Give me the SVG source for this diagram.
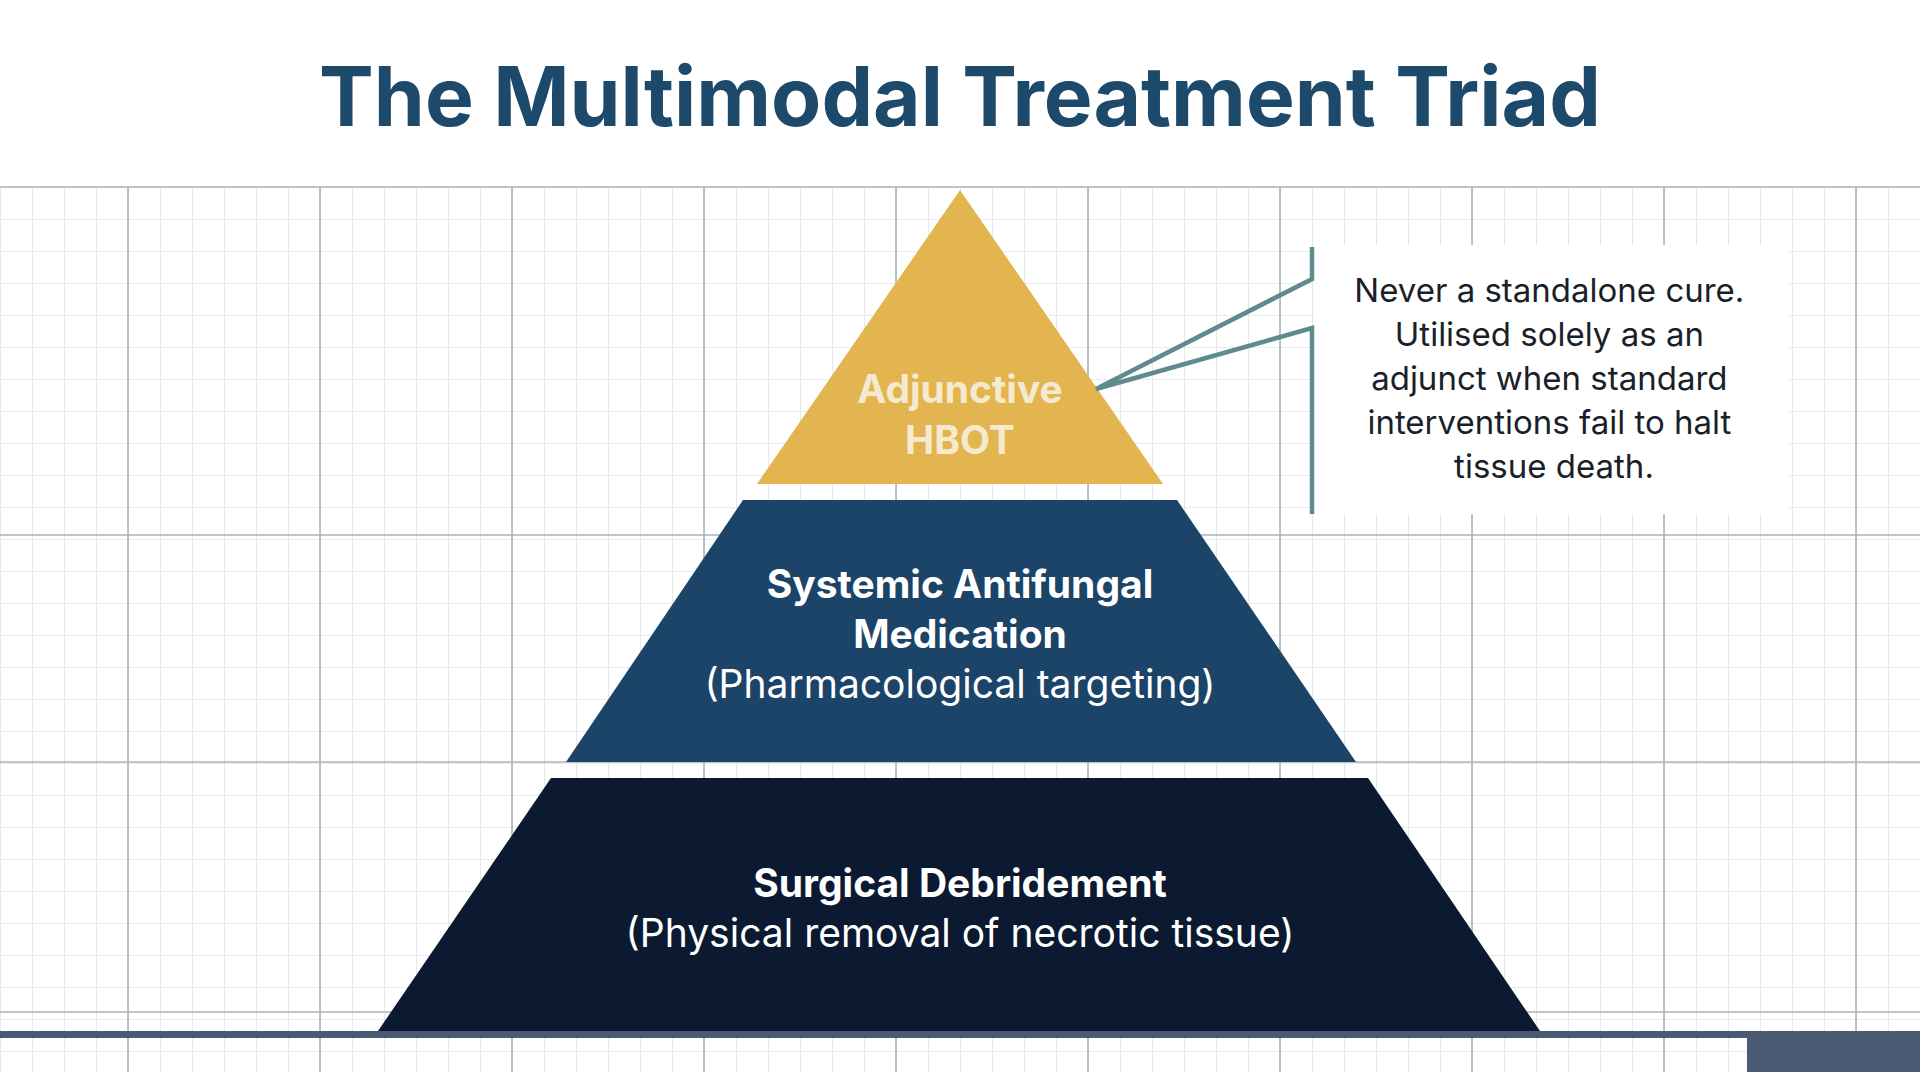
<svg xmlns="http://www.w3.org/2000/svg" width="1920" height="1072" viewBox="0 0 1920 1072">
<defs>
<pattern id="minor" x="0" y="187" width="32" height="32" patternUnits="userSpaceOnUse">
<path d="M0 0H32M0 0V32" fill="none" stroke="#d3d9de" stroke-width="1.2"/>
</pattern>
<style>
.t{font-family:Inter,"Open Sans",sans-serif;text-anchor:middle}
.b{font-weight:700}
.maj{stroke:#a9b5bd;stroke-width:1.6}
</style>
</defs>
<rect width="1920" height="1072" fill="#fff"/>
<rect x="0" y="187" width="1920" height="885" fill="url(#minor)"/>
<g class="maj">
<line x1="128" y1="187" x2="128" y2="1072"/><line x1="320" y1="187" x2="320" y2="1072"/><line x1="512" y1="187" x2="512" y2="1072"/><line x1="704" y1="187" x2="704" y2="1072"/><line x1="896" y1="187" x2="896" y2="1072"/><line x1="1088" y1="187" x2="1088" y2="1072"/><line x1="1280" y1="187" x2="1280" y2="1072"/><line x1="1472" y1="187" x2="1472" y2="1072"/><line x1="1664" y1="187" x2="1664" y2="1072"/><line x1="1856" y1="187" x2="1856" y2="1072"/>
<line x1="0" y1="187" x2="1920" y2="187"/><line x1="0" y1="535" x2="1920" y2="535"/><line x1="0" y1="762" x2="1920" y2="762"/><line x1="0" y1="1012" x2="1920" y2="1012"/>
</g>
<rect x="0" y="1031" width="1920" height="7" fill="#4a5a72"/>
<rect x="1747" y="1031" width="173" height="41" fill="#4a5a72"/>
<text class="t b" x="960" y="126" font-size="82" fill="#1d4a6b">The Multimodal Treatment Triad</text>
<g id="top">
<polygon points="960,190 1163,484 757,484" fill="#e3b550"/>
<text class="t b" x="960" y="403" font-size="39" fill="#f5ead0">Adjunctive</text>
<text class="t b" x="960" y="454" font-size="39" fill="#f5ead0">HBOT</text>
</g>
<g id="middle">
<polygon points="743,500 1177,500 1356,762 566,762" fill="#1b4468"/>
<text class="t b" x="960" y="598" font-size="39" fill="#fff">Systemic Antifungal</text>
<text class="t b" x="960" y="648" font-size="39" fill="#fff">Medication</text>
<text class="t" x="960" y="698" font-size="39" fill="#fff">(Pharmacological targeting)</text>
</g>
<g id="bottom">
<polygon points="551,778 1368,778 1540,1031 378,1031" fill="#0b1a30"/>
<text class="t b" x="960" y="897" font-size="39" fill="#fff">Surgical Debridement</text>
<text class="t" x="960" y="947" font-size="39" fill="#fff">(Physical removal of necrotic tissue)</text>
</g>
<g id="callout">
<rect x="1313" y="245" width="475" height="269" fill="#fff"/>
<text class="t" font-size="33" fill="#1a1f2a">
<tspan x="1554" y="302">Never a standalone cure.</tspan>
<tspan x="1554" y="346">Utilised solely as an</tspan>
<tspan x="1554" y="390">adjunct when standard</tspan>
<tspan x="1554" y="434">interventions fail to halt</tspan>
<tspan x="1554" y="478">tissue death.</tspan>
</text>
</g>
<g id="connectors">
<polyline points="1312,247 1312,279 1096,389 1312,328 1312,514" fill="none" stroke="#5f8a8f" stroke-width="4.5" stroke-linejoin="miter"/>
</g>
</svg>
